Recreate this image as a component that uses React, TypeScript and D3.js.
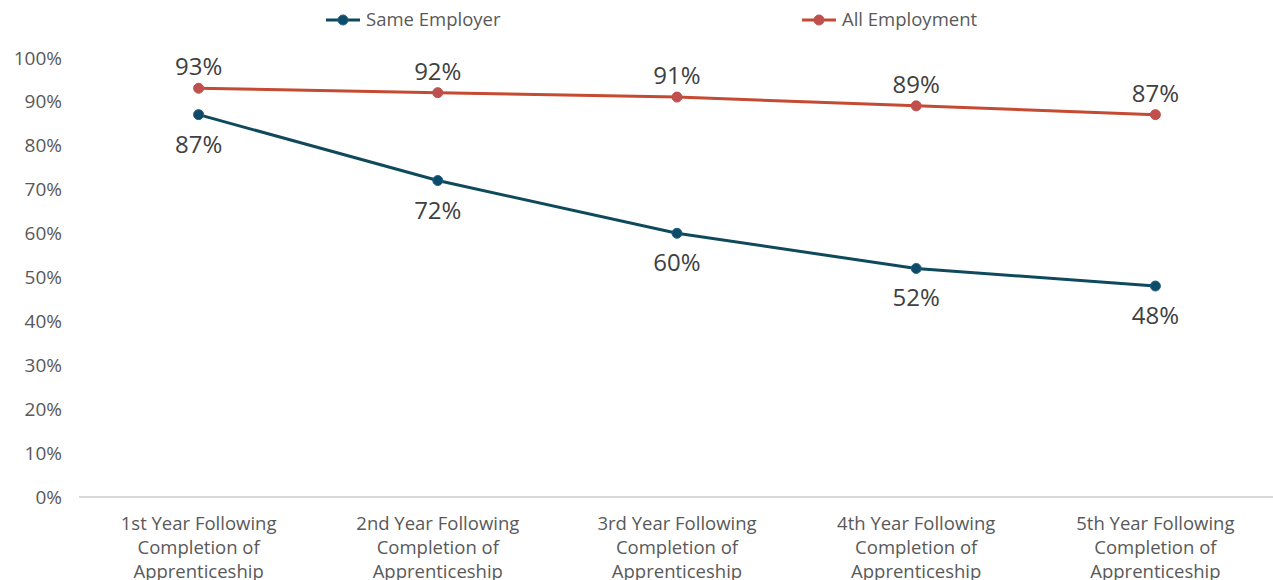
import React from "react";
import * as d3 from "d3";

const categories = [
  ["1st Year Following", "Completion of", "Apprenticeship"],
  ["2nd Year Following", "Completion of", "Apprenticeship"],
  ["3rd Year Following", "Completion of", "Apprenticeship"],
  ["4th Year Following", "Completion of", "Apprenticeship"],
  ["5th Year Following", "Completion of", "Apprenticeship"],
];
const sameEmployer = [87, 72, 60, 52, 48];
const allEmployment = [93, 92, 91, 89, 87];
const yTicks = [0, 10, 20, 30, 40, 50, 60, 70, 80, 90, 100];

const W = 1273;
const H = 580;
const FONT = "'Century Gothic', 'Open Sans', 'DejaVu Sans', sans-serif";

export default function App() {
  const x = d3
    .scaleBand<number>()
    .domain(categories.map((_, i) => i))
    .range([79, 1275]);
  const y = d3.scaleLinear().domain([0, 100]).range([497, 57.5]);
  const cx = (i: number) => (x(i) as number) + x.bandwidth() / 2;
  const line = d3
    .line<number>()
    .x((_, i) => cx(i))
    .y((d) => y(d));

  const series = [
    { name: "Same Employer", data: sameEmployer, line: "#0E4A5C", marker: "#0D4B66", stroke: "#1F5F8B", below: true, lx: 326 },
    { name: "All Employment", data: allEmployment, line: "#C44A32", marker: "#C0504D", stroke: "#C0504D", below: false, lx: 802 },
  ];

  return (
    <svg width={W} height={H} style={{ position: "absolute", left: 0, top: 0, background: "#fff" }}>
      {/* legend */}
      {series.map((s) => (
        <g key={s.name}>
          <line x1={s.lx} x2={s.lx + 34} y1={20} y2={20} stroke={s.line} strokeWidth={3} />
          <circle cx={s.lx + 17} cy={20} r={5} fill={s.marker} stroke={s.stroke} strokeWidth={1} />
          <text x={s.lx + 40} y={26} fontSize={18.5} fill="#595959" fontFamily={FONT}>
            {s.name}
          </text>
        </g>
      ))}
      {/* y axis labels */}
      {yTicks.map((t) => (
        <text key={t} x={62} y={y(t) + 7} textAnchor="end" fontSize={19} fill="#595959" fontFamily={FONT}>
          {t}%
        </text>
      ))}
      {/* baseline */}
      <line x1={79} x2={1273} y1={y(0)} y2={y(0)} stroke="#D9D9D9" strokeWidth={2} />
      {/* category labels */}
      {categories.map((c, i) => (
        <text key={i} textAnchor="middle" fontSize={18.5} fill="#595959" fontFamily={FONT}>
          {c.map((l, j) => (
            <tspan key={j} x={cx(i)} y={530 + j * 24}>
              {l}
            </tspan>
          ))}
        </text>
      ))}
      {/* lines */}
      {series.map((s) => (
        <g key={s.name}>
          <path d={line(s.data) || ""} fill="none" stroke={s.line} strokeWidth={3} />
          {s.data.map((d, i) => (
            <circle key={i} cx={cx(i)} cy={y(d)} r={5} fill={s.marker} stroke={s.stroke} strokeWidth={1} />
          ))}
          {s.data.map((d, i) => (
            <text
              key={"l" + i}
              x={cx(i)}
              y={s.below ? y(d) + 38 : y(d) - 13}
              textAnchor="middle"
              fontSize={24}
              fill="#404040"
              fontFamily={FONT}
            >
              {d}%
            </text>
          ))}
        </g>
      ))}
    </svg>
  );
}
